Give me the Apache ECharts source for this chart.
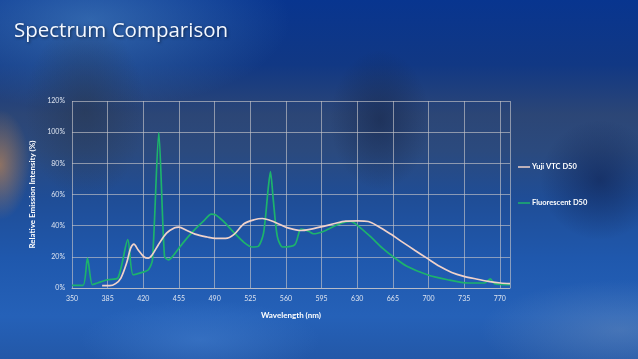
<!DOCTYPE html>
<html>
<head>
<meta charset="utf-8">
<script src="https://cdn.jsdelivr.net/npm/echarts@6/dist/echarts.min.js"></script>
<style>
html,body{margin:0;padding:0;width:638px;height:359px;overflow:hidden;}
#bg{position:absolute;left:0;top:0;width:638px;height:359px;
background:
 radial-gradient(ellipse 30px 55px at 0px 165px, rgba(185,130,85,0.7), rgba(185,130,85,0) 100%),
 radial-gradient(ellipse 60px 90px at 85px 110px, rgba(40,55,80,0.6), rgba(40,55,80,0) 100%),
 radial-gradient(ellipse 50px 70px at 380px 120px, rgba(20,35,70,0.55), rgba(20,35,70,0) 100%),
 radial-gradient(ellipse 60px 60px at 600px 180px, rgba(10,25,70,0.5), rgba(10,25,70,0) 100%),
 radial-gradient(ellipse 120px 40px at 200px 340px, rgba(70,130,210,0.5), rgba(70,130,210,0) 100%),
 radial-gradient(ellipse 140px 50px at 620px 330px, rgba(120,150,190,0.4), rgba(120,150,190,0) 100%),
 radial-gradient(ellipse 200px 90px at 90px 20px, rgba(80,140,200,0.55), rgba(80,140,200,0) 100%),
 linear-gradient(180deg, #08358f 0%, #113884 18%, #2c4676 32%, #2b4a7e 42%, #1f4d96 55%, #1f58ad 72%, #2561b8 88%, #2358a8 100%);
}
#chart{position:absolute;left:0;top:0;width:638px;height:359px;}
</style>
</head>
<body>
<div id="bg"></div>
<div id="chart"></div>
<script>
var titleText = 'Spectrum Comparison';
var xAxisName = 'Wavelength (nm)';
var yAxisName = 'Relative Emission Intensity (%)';
var seriesNames = ['Yuji VTC D50', 'Fluorescent D50'];

var yujiWl = [379.6,386.8,392.8,398,403.6,407.6,410.8,414.8,420.8,424.8,428.8,434.8,442.8,450.8,454.8,462.8,470.8,482.8,490.8,500.8,508.8,518.8,528.8,536.8,544.8,554.8,562.8,574.8,584.8,596.8,606.8,618.8,630.8,640.8,650.8,662.8,674.8,686.8,698.8,710.8,722.8,734.8,746.8,758.8,770.8,780];
var yujiVal = [1.5,1.5,2.8,6.4,16,25.6,28.2,24.6,19.9,19.2,21.4,27.8,35.2,38.6,39.1,36.9,34.6,32.7,31.8,31.8,34.2,41.2,43.8,44.6,43.3,40.6,38.4,36.9,37.8,39.5,41.2,42.9,43.1,42.7,39.5,34.6,29.3,24.1,19,13.9,10,7.5,5.8,4.3,3.2,2.8];

var fluoWl = [350,360.8,365.2,370,375,385,395,404.8,410,418.8,425,429,435.2,440.8,444.8,448.8,458.8,468.8,478.8,486.8,490.8,498.8,508.8,518.8,526.8,532.8,538,542.8,544.8,547.6,551.6,556.8,568.8,574.8,582.8,586.8,596.8,606.8,616.8,623.6,630.8,642.8,654.8,664.8,678.8,698.8,718.8,738.8,754.8,760.8,764.8,780];
var fluoVal = [1.7,1.7,19.2,2.1,3.2,5.3,6.4,31,8.5,10,11.7,18,99.7,20.3,18.1,20.3,28.8,36.3,42.7,47.4,47,42.7,35.7,29.3,26.3,26.7,35,65,74.7,56.6,33,26.3,27.8,37.8,36.3,34.8,36.3,39.5,42.1,42.7,39.9,33.1,25.6,20.3,13.9,8.5,5.3,3.2,3.2,5.8,2.8,2.1];

function pairs(xs, ys){ return xs.map(function(x,i){ return [x, ys[i]]; }); }

var chart = echarts.init(document.getElementById('chart'), null, {renderer:'canvas'});
var font = 'Lato, "Open Sans", sans-serif';
chart.setOption({
  backgroundColor: 'transparent',
  animation: false,
  title: {
    text: titleText, left: 9, top: 16,
    textStyle: {color:'#f4f8ff', fontSize:20.5, fontWeight:'normal', fontFamily:'"Open Sans", sans-serif',
      textShadowColor:'rgba(0,0,0,0.55)', textShadowBlur:3, textShadowOffsetX:1, textShadowOffsetY:1}
  },
  grid: {left:72, right:128, top:101, bottom:71, containLabel:false},
  legend: {
    orient:'vertical', left:513, top:158, itemGap:28, itemWidth:12, itemHeight:1.5, icon:'rect',
    textStyle:{color:'#ffffff', fontSize:7.5, fontWeight:'bold', fontFamily:font, padding:[0,0,0,-3]},
    data: seriesNames
  },
  xAxis: {
    type:'value', min:350, max:780, interval:35,
    name: xAxisName, nameLocation:'middle', nameGap:23,
    nameTextStyle:{color:'#ffffff', fontSize:8, fontWeight:'bold', fontFamily:font},
    axisLine:{show:true, lineStyle:{color:'rgba(195,195,200,0.8)', width:1}},
    axisTick:{show:false},
    axisLabel:{color:'#dde4f0', fontSize:7, margin:7, fontFamily:font, showMaxLabel:false},
    splitLine:{show:true, lineStyle:{color:'rgba(195,195,200,0.65)', width:1}}
  },
  yAxis: {
    type:'value', min:0, max:120, interval:20,
    name: yAxisName, nameLocation:'middle', nameGap:32, nameRotate:90,
    nameTextStyle:{color:'#ffffff', fontSize:8, fontWeight:'bold', fontFamily:font},
    axisLine:{show:false},
    axisTick:{show:false},
    axisLabel:{color:'#dde4f0', fontSize:7, margin:7, fontFamily:font, formatter:'{value}%'},
    splitLine:{show:true, lineStyle:{color:'rgba(195,195,200,0.65)', width:1}}
  },
  series: [
    {name:seriesNames[0], type:'line', data:pairs(yujiWl, yujiVal), smooth:0.3, symbol:'none',
     lineStyle:{color:'#f0d2ca', width:1.7}, itemStyle:{color:'#f0d2ca'}, z:3},
    {name:seriesNames[1], type:'line', data:pairs(fluoWl, fluoVal), smooth:0.25, symbol:'none',
     lineStyle:{color:'#1db36c', width:1.7}, itemStyle:{color:'#1db36c'}, z:2}
  ]
});
</script>
</body>
</html>
